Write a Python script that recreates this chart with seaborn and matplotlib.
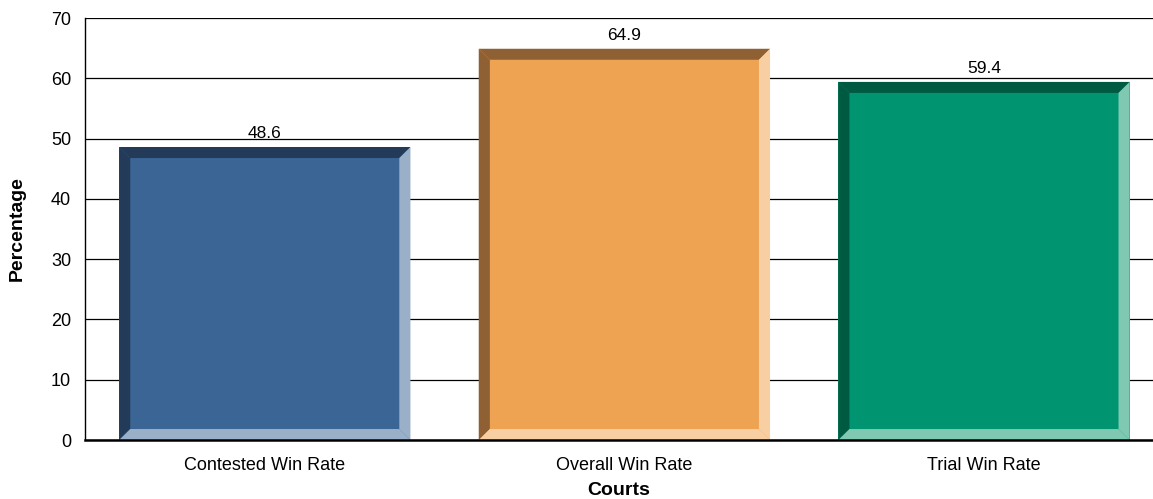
import matplotlib
matplotlib.use("Agg")
import matplotlib.pyplot as plt
from matplotlib.patches import Polygon
import seaborn as sns
import pandas as pd

# data
categories = ["Contested Win Rate", "Overall Win Rate", "Trial Win Rate"]
values = [48.6, 64.9, 59.4]
face_colors = ["#3A6595", "#EEA353", "#009470"]
dark_colors = ["#233A58", "#8E6033", "#005A42"]
light_colors = ["#9AB0C8", "#F7CFA2", "#7FC9B3"]

df = pd.DataFrame({"Courts": categories, "Percentage": values})

sns.set_style("white")
plt.rcParams["font.family"] = ["Liberation Sans", "DejaVu Sans"]

fig = plt.figure(figsize=(11.53, 4.99), dpi=100)
ax = fig.add_axes([0.0737, 0.1182, 0.9263, 0.8457])

sns.barplot(data=df, x="Courts", y="Percentage", hue="Courts", palette=face_colors,
            width=0.81, saturation=1, legend=False, ax=ax, zorder=2, linewidth=0)

ax.set_ylim(0, 70)
ax.set_xlim(-0.5, 2.47)
ax.set_yticks(range(0, 71, 10))
ax.yaxis.grid(True, color="black", linewidth=0.9)
ax.set_axisbelow(True)
for s in ["top", "right"]:
    ax.spines[s].set_visible(False)
ax.spines["left"].set_color("black")
ax.spines["left"].set_linewidth(1.0)
ax.spines["bottom"].set_color("black")
ax.spines["bottom"].set_linewidth(1.8)
ax.spines["bottom"].set_zorder(5)
ax.tick_params(axis="y", length=0, labelsize=13, colors="black", pad=10)
ax.tick_params(axis="x", length=0, labelsize=13, colors="black", pad=12)
ax.set_xlabel("Courts", fontsize=14, fontweight="bold", labelpad=6, color="black")
ax.set_ylabel("Percentage", fontsize=14, fontweight="bold", labelpad=18, color="black")

# bevel size in data units (about 11 px)
bx = 11 / 356.0
by = 11 / (422 / 70.0)

for patch, dc, lc in zip(ax.patches, dark_colors, light_colors):
    x0 = patch.get_x()
    x1 = x0 + patch.get_width()
    h = patch.get_height()
    top = Polygon([(x0, h), (x1, h), (x1 - bx, h - by), (x0 + bx, h - by)], closed=True,
                  facecolor=dc, edgecolor="none", zorder=3)
    left = Polygon([(x0, h), (x0 + bx, h - by), (x0 + bx, by), (x0, 0)], closed=True,
                   facecolor=dc, edgecolor="none", zorder=3)
    right = Polygon([(x1, h), (x1, 0), (x1 - bx, by), (x1 - bx, h - by)], closed=True,
                    facecolor=lc, edgecolor="none", zorder=3)
    bottom = Polygon([(x0, 0), (x1, 0), (x1 - bx, by), (x0 + bx, by)], closed=True,
                     facecolor=lc, edgecolor="none", zorder=3)
    for p in (top, left, right, bottom):
        ax.add_patch(p)
    ax.text(x0 + patch.get_width() / 2, h + 1.0, f"{h:.1f}", ha="center", va="bottom",
            fontsize=12.5, color="black", zorder=4)

fig.savefig("out.png", dpi=100)
